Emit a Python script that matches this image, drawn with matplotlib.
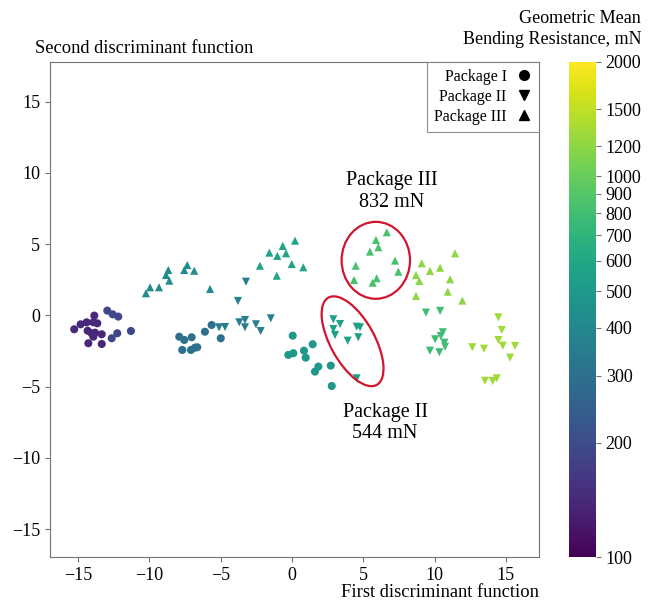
import matplotlib
matplotlib.use("Agg")
import matplotlib.pyplot as plt
from matplotlib.colors import LogNorm
from matplotlib.patches import Ellipse
from matplotlib.lines import Line2D

plt.rcParams['font.family'] = ['Liberation Serif', 'DejaVu Serif']
plt.rcParams['axes.unicode_minus'] = True

# Package I (circles)
circ_x = [-12.96, -12.58, -12.19, -13.87, -13.66, -13.94, -14.41, -14.83, -15.28, -14.34,
          -14.06, -13.82, -13.35, -12.26, -11.30, -13.94, -12.65, -14.29, -13.35,
          -5.64, -6.11, -7.91, -7.56, -7.04, -5.00, -7.70, -7.09, -6.81, -6.65,
          0.05, -0.26, 0.09, 0.84, 1.45, 0.96, 1.85, 1.61, 2.72, 2.79]
circ_y = [0.34, 0.08, -0.08, -0.01, -0.55, -0.48, -0.48, -0.62, -0.97, -1.07,
          -1.25, -1.21, -1.32, -1.25, -1.09, -1.49, -1.60, -1.95, -2.00,
          -0.67, -1.14, -1.49, -1.72, -1.53, -1.60, -2.42, -2.42, -2.26, -2.23,
          -1.42, -2.77, -2.65, -2.47, -2.02, -2.96, -3.59, -3.94, -3.52, -4.95]
circ_v = [190, 190, 190, 140, 140, 140, 140, 140, 140, 140,
          140, 140, 140, 190, 190, 140, 190, 140, 140,
          300, 300, 300, 300, 300, 300, 300, 300, 300, 300,
          490, 490, 490, 490, 490, 490, 490, 490, 490, 490]

# Package II (down triangles)
down_x = [-3.23, -3.79, -3.70, -3.30, -3.30, -2.53, -2.20, -1.49, -4.70, -5.12,
          2.90, 3.37, 2.90, 3.02, 4.54, 4.77, 3.91, 4.65, 4.54,
          9.40, 10.39, 10.58, 10.44, 10.04, 10.69, 10.74, 9.68, 10.34,
          14.48, 14.72, 14.48, 14.79, 15.65, 15.30, 12.65, 13.47, 13.54, 14.08, 14.36]
down_y = [2.37, 1.02, -0.48, -0.32, -0.83, -0.62, -1.09, -0.20, -0.81, -0.83,
          -0.27, -0.60, -0.95, -1.37, -0.79, -0.83, -1.77, -1.53, -4.41,
          0.20, 0.32, -1.18, -1.44, -1.67, -1.91, -2.19, -2.47, -2.58,
          -0.13, -1.02, -1.72, -2.12, -2.14, -2.96, -2.23, -2.33, -4.58, -4.60, -4.41]
down_v = [360] * 10 + [544] * 9 + [780] * 9 + [1300] * 11

# Package III (up triangles)
up_x = [-10.25, -9.96, -9.33, -8.84, -8.68, -8.61, -7.56, -7.35, -6.86, -5.75,
        0.21, -0.65, -1.59, -1.03, -0.42, -2.25, -0.02, 0.79, -1.07,
        6.65, 5.89, 6.06, 5.47, 7.23, 7.46, 4.47, 4.35, 5.66, 5.94,
        11.44, 9.10, 9.68, 10.39, 8.70, 8.93, 11.09, 10.93, 8.70, 11.95]
up_y = [1.56, 1.98, 1.98, 2.84, 3.19, 2.44, 3.19, 3.54, 3.14, 1.86,
        5.25, 4.88, 4.41, 4.18, 4.36, 3.49, 3.61, 3.38, 2.79,
        5.84, 5.30, 4.79, 4.48, 3.85, 3.07, 3.49, 2.49, 2.30, 2.61,
        4.36, 3.66, 3.12, 3.35, 2.84, 2.42, 2.54, 1.67, 1.37, 1.04]
up_v = [420] * 10 + [570] * 9 + [832] * 10 + [1200] * 10

cbar_ticks = [100, 200, 300, 400, 500, 600, 700, 800, 900, 1000, 1200, 1500, 2000]

fig = plt.figure(figsize=(6.51, 6.0), dpi=100)
ax = fig.add_axes([0.0768, 0.0712, 0.7516, 0.826])
cax = fig.add_axes([0.874, 0.0712, 0.0415, 0.826])

norm = LogNorm(vmin=100, vmax=2000)
sc = ax.scatter(circ_x, circ_y, c=circ_v, cmap='viridis', norm=norm, marker='o', s=34, linewidths=0)
ax.scatter(down_x, down_y, c=down_v, cmap='viridis', norm=norm, marker='v', s=34, linewidths=0)
ax.scatter(up_x, up_y, c=up_v, cmap='viridis', norm=norm, marker='^', s=34, linewidths=0)

red = '#d0152f'
ax.add_patch(Ellipse((5.88, 3.87), 4.8, 5.4, angle=0, fill=False, ec=red, lw=1.6))
ax.add_patch(Ellipse((4.25, -1.81), 7.0, 3.1, angle=-61, fill=False, ec=red, lw=1.6))
ax.text(7.02, 8.7, 'Package III\n832 mN', ha='center', va='center', fontsize=14.5, linespacing=1.15)
ax.text(6.53, -7.54, 'Package II\n544 mN', ha='center', va='center', fontsize=14.5, linespacing=1.15)

ax.set_xlim(-16.98, 17.35)
ax.set_ylim(-16.97, 17.81)
ax.set_xticks([-15, -10, -5, 0, 5, 10, 15])
ax.set_yticks([-15, -10, -5, 0, 5, 10, 15])
ax.tick_params(labelsize=13, color='0.45', length=3.5)
for sp in ax.spines.values():
    sp.set_color('0.45')

ax.text(-0.031, 1.010, 'Second discriminant function', transform=ax.transAxes,
        ha='left', va='bottom', fontsize=13.3)
ax.text(1.0, -0.053, 'First discriminant function', transform=ax.transAxes,
        ha='right', va='top', fontsize=13.3)

handles = [Line2D([], [], ls='none', marker=m, color='black', markersize=7) for m in ['o', 'v', '^']]
leg = ax.legend(handles, ['Package I', 'Package II', 'Package III'], loc='upper right',
                markerfirst=False, fontsize=11.5, fancybox=False, borderaxespad=0,
                handlelength=1.0, handletextpad=0.6, labelspacing=0.25, borderpad=0.45)
leg.get_frame().set_edgecolor('0.45')
leg.get_frame().set_linewidth(0.8)

cb = fig.colorbar(sc, cax=cax)
cb.outline.set_visible(False)
cax.minorticks_off()
cax.set_yticks(cbar_ticks)
cax.set_yticklabels([str(t) for t in cbar_ticks])
cax.tick_params(labelsize=13, color='0.45', length=3.5)
fig.text(0.985, 0.952, 'Geometric Mean\nBending Resistance, mN', ha='right', va='center',
         fontsize=13, linespacing=1.35)

fig.savefig('out.png', dpi=100)
